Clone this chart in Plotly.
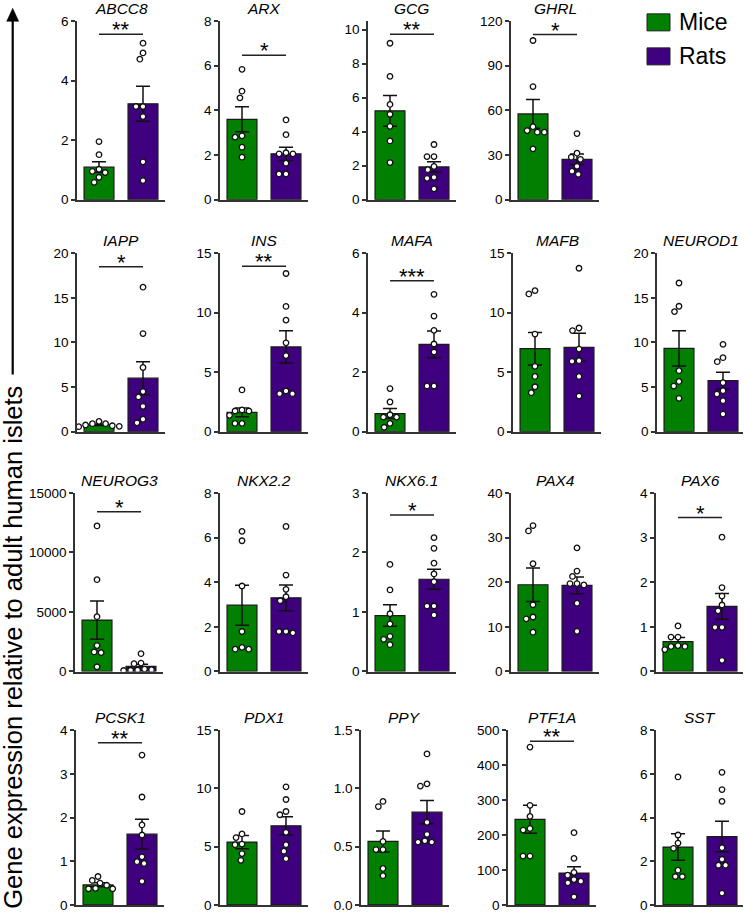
import math
import plotly.graph_objects as go

# ---------------- data ----------------
genes = ["ABCC8", "ARX", "GCG", "GHRL",
         "IAPP", "INS", "MAFA", "MAFB", "NEUROD1",
         "NEUROG3", "NKX2.2", "NKX6.1", "PAX4", "PAX6",
         "PCSK1", "PDX1", "PPY", "PTF1A", "SST"]

abcc8_mice = [1.95, 1.51, 1.02, 0.95, 0.91, 0.75, 0.58]
abcc8_rats = [5.26, 4.93, 4.72, 3.13, 3.13, 2.79, 1.27, 0.64]
arx_mice = [5.84, 4.86, 4.56, 2.86, 2.80, 2.35, 1.90]
arx_rats = [3.57, 2.91, 2.10, 2.05, 2.05, 1.63, 1.15, 1.15]
gcg_mice = [9.2, 7.25, 5.6, 5.02, 4.31, 3.45, 2.18]
gcg_rats = [3.24, 2.53, 2.53, 1.95, 1.76, 1.31, 1.25, 0.63]
ghrl_mice = [107, 76, 49, 46.4, 45.3, 45.3, 34.1]
ghrl_rats = [44.4, 31.2, 28.5, 27.1, 22.4, 19.1, 17.0]
iapp_mice = [1.16, 0.9, 0.9, 0.75, 0.67, 0.6, 0.56]
iapp_rats = [16.2, 11.0, 7.2, 4.5, 3.9, 2.85, 1.4, 1.0]
ins_mice = [3.51, 1.83, 1.74, 1.74, 1.38, 0.7, 0.7]
ins_rats = [13.3, 10.53, 9.38, 7.47, 6.4, 3.43, 3.2, 3.2]
mafa_mice = [1.45, 1.0, 0.57, 0.49, 0.49, 0.28, 0.15]
mafa_rats = [4.62, 3.89, 3.41, 2.95, 2.68, 1.54, 1.54]
mafb_mice = [11.86, 11.58, 8.21, 5.5, 4.65, 3.78, 3.28]
mafb_rats = [13.74, 8.72, 8.5, 6.95, 5.97, 5.92, 4.65, 3.0]
neurod1_mice = [16.67, 14.06, 13.46, 6.84, 5.64, 5.12, 3.74]
neurod1_rats = [9.79, 8.3, 7.85, 5.5, 4.6, 4.22, 3.48, 1.98]
neurog3_mice = [12232, 7712, 4605, 2175, 1638, 1582, 396]
neurog3_rats = [1497, 706, 650, 200, 150, 120, 100, 80]
nkx22_mice = [6.28, 5.86, 3.83, 1.79, 1.08, 1.0, 1.0]
nkx22_rats = [6.5, 4.32, 3.68, 3.35, 3.17, 1.79, 1.79, 1.73]
nkx61_mice = [1.80, 1.37, 0.97, 0.80, 0.59, 0.54, 0.45]
nkx61_rats = [2.25, 2.07, 1.82, 1.64, 1.51, 1.10, 1.10, 0.95]
pax4_mice = [32.7, 31.5, 24.15, 14.95, 12.2, 11.8, 8.8]
pax4_rats = [27.7, 22.5, 21.3, 19.7, 19.7, 19.4, 15.3, 9.0]
pax6_mice = [1.02, 0.77, 0.77, 0.58, 0.56, 0.56, 0.49]
pax6_rats = [3.01, 1.88, 1.69, 1.49, 1.36, 0.99, 0.99, 0.25]
pcsk1_mice = [0.65, 0.56, 0.50, 0.45, 0.38, 0.37, 0.37]
pcsk1_rats = [3.43, 2.47, 1.83, 1.60, 1.10, 0.99, 0.95, 0.54]
pdx1_mice = [8.02, 6.09, 5.78, 5.22, 5.17, 4.41, 3.83]
pdx1_rats = [10.14, 9.05, 8.02, 7.74, 6.23, 5.17, 4.61, 3.97]
ppy_mice = [0.888, 0.844, 0.545, 0.475, 0.475, 0.313, 0.251]
ppy_rats = [1.296, 1.039, 1.02, 0.709, 0.606, 0.55, 0.539, 0.539]
ptf1a_mice = [451.6, 284.9, 253.3, 218.8, 214.2, 139.7, 139.7]
ptf1a_rats = [206.7, 133.1, 93.1, 85, 72.6, 68, 63.3, 23.3]
sst_mice = [5.86, 3.2, 2.83, 2.59, 1.59, 1.30, 1.30]
sst_rats = [6.07, 5.28, 4.74, 2.62, 2.09, 1.82, 1.82, 0.54]

mice_points = [abcc8_mice, arx_mice, gcg_mice, ghrl_mice, iapp_mice, ins_mice,
               mafa_mice, mafb_mice, neurod1_mice, neurog3_mice, nkx22_mice,
               nkx61_mice, pax4_mice, pax6_mice, pcsk1_mice, pdx1_mice,
               ppy_mice, ptf1a_mice, sst_mice]
rats_points = [abcc8_rats, arx_rats, gcg_rats, ghrl_rats, iapp_rats, ins_rats,
               mafa_rats, mafb_rats, neurod1_rats, neurog3_rats, nkx22_rats,
               nkx61_rats, pax4_rats, pax6_rats, pcsk1_rats, pdx1_rats,
               ppy_rats, ptf1a_rats, sst_rats]

mice_mean = [1.09, 3.60, 5.22, 57.6, 0.78, 1.62, 0.61, 6.98, 9.35, 4322,
             2.97, 0.94, 19.44, 0.67, 0.46, 5.39, 0.545, 244.9, 2.65]
mice_sem = [0.18, 0.56, 0.91, 9.7, 0.08, 0.37, 0.17, 1.37, 1.98, 1610,
            0.90, 0.18, 3.75, 0.09, 0.045, 0.56, 0.09, 40, 0.61]
rats_mean = [3.22, 2.05, 1.92, 27.1, 6.0, 7.13, 2.94, 7.09, 5.72, 430,
             3.30, 1.55, 19.29, 1.46, 1.62, 6.79, 0.796, 91.2, 3.13]
rats_sem = [0.59, 0.30, 0.30, 3.5, 1.85, 1.35, 0.45, 1.18, 0.95, 180,
            0.58, 0.17, 1.9, 0.29, 0.34, 0.78, 0.10, 17.7, 0.70]

y_max = [6, 8, 10.5, 120, 20, 15, 6, 15, 20, 15000, 8, 3, 40, 4, 4, 15, 1.5, 500, 8]
y_step = [2, 2, 2, 30, 5, 5, 2, 5, 5, 5000, 2, 1, 10, 1, 1, 5, 0.5, 100, 2]
sig_label = ["**", "*", "**", "*", "*", "**", "***", "", "", "*", "", "*", "", "*",
             "**", "", "", "**", ""]
sig_height = [5.56, 6.47, 9.73, 111, 18.5, 13.9, 5.08, 0, 0, 13418, 0, 2.63, 0, 3.45,
              3.71, 0, 0, 468, 0]
group_names = ["Mice", "Rats"]

# ---------------- layout constants ----------------
W, H = 744, 913
GREEN = "#007F00"
PURPLE = "#3F007F"
AXC = "#333333"
FONT = "Liberation Sans, Arial, sans-serif"
row_tops = [20.7, 252.7, 492.3, 729.3]   # target picture positions
PH = 178.5
PW = 88
row_x0 = [[77, 220, 368, 511],
          [77, 220, 368, 513, 657],
          [75, 220, 368, 511, 656],
          [76, 220, 361, 508, 656]]
panel_pos = []
for r, xs in enumerate(row_x0):
    for x0 in xs:
        panel_pos.append((r, x0))

# vertical calibration of the page -> picture mapping observed in the renderer
SY, OY = 0.983, 6.65

def Y(v):
    return min(max((v - OY) / SY, 0.0), float(H))

def py(v):
    return (H - Y(v)) / H

def swarm(vals, ppu, D=7.0):
    placed = []
    out = [0.0] * len(vals)
    order = sorted(range(len(vals)), key=lambda k: -vals[k])
    for k in order:
        y = vals[k] * ppu
        cands = [0.0]
        for (px_, py_) in placed:
            dy = abs(py_ - y)
            if dy < D:
                dx = math.sqrt(D * D - dy * dy)
                cands += [px_ + dx, px_ - dx]
        best = 0.0
        for c in sorted(cands, key=lambda c: (round(abs(c), 6), c)):
            if all((c - a) ** 2 + (y - b) ** 2 >= D * D - 1e-6 for a, b in placed):
                best = c
                break
        placed.append((best, y))
        out[k] = best
    return out

fig = go.Figure()
shapes = []
annotations = []
layout_axes = {}
XPPU = PW / 2.0  # pixels per category unit

for i, g in enumerate(genes):
    r, x0 = panel_pos[i]
    top = row_tops[r]
    n = "" if i == 0 else str(i + 1)
    xa, ya = "x" + n, "y" + n
    ppu = PH / y_max[i]
    x1 = min(x0 + PW, W - 1)

    for j, (means, sems, pts, col) in enumerate([
            (mice_mean, mice_sem, mice_points, GREEN),
            (rats_mean, rats_sem, rats_points, PURPLE)]):
        fig.add_trace(go.Bar(
            x=[j], y=[means[i]], width=0.68, name=group_names[j],
            marker=dict(color=col, line=dict(color="#1a1a1a", width=1.2)),
            error_y=dict(type="data", array=[sems[i]], symmetric=True,
                         color="#111111", thickness=1.5, width=7),
            xaxis=xa, yaxis=ya, showlegend=False, hoverinfo="skip"))
        offs = swarm(pts[i], ppu)
        fig.add_trace(go.Scatter(
            x=[j + o / XPPU for o in offs], y=pts[i], mode="markers",
            marker=dict(size=5.5, color="white", line=dict(color="#111111", width=1.3)),
            xaxis=xa, yaxis=ya, showlegend=False, hoverinfo="skip"))

    nt = int(round(y_max[i] / y_step[i] + 1e-9))
    tv = [k * y_step[i] for k in range(nt + 1)]
    if y_step[i] < 1:
        tt = ["%.1f" % v for v in tv]
    else:
        tt = ["%d" % round(v) for v in tv]

    layout_axes["xaxis" + n] = dict(
        domain=[x0 / W, x1 / W], range=[-0.5, -0.5 + (x1 - x0) / XPPU], anchor=ya,
        showline=True, linecolor=AXC, linewidth=1.5, showticklabels=False,
        ticks="", showgrid=False, zeroline=False, fixedrange=True)
    layout_axes["yaxis" + n] = dict(
        domain=[py(top + PH), py(top)], range=[-y_max[i] * 0.0005, y_max[i] * 1.0005],
        anchor=xa, tickmode="array", tickvals=tv, ticktext=tt,
        ticks="outside", ticklen=4, tickwidth=1.5, tickcolor=AXC,
        showline=True, linecolor=AXC, linewidth=1.5, showgrid=False,
        zeroline=False, fixedrange=True,
        tickfont=dict(family=FONT, size=13.5, color="black"))

    annotations.append(dict(
        text="<i>%s</i>" % g, xref="paper", yref="paper",
        x=(x0 + PW / 2) / W, y=py(top - 12.5), xanchor="center", yanchor="middle",
        showarrow=False, font=dict(family=FONT, size=15.5, color="black")))

    if sig_label[i]:
        shapes.append(dict(type="line", xref=xa, yref=ya, x0=0, x1=1,
                           y0=sig_height[i], y1=sig_height[i],
                           line=dict(color="#222222", width=1.5)))
        annotations.append(dict(
            text=sig_label[i], xref=xa, yref=ya, x=0.5, y=sig_height[i],
            xanchor="center", yanchor="bottom", yshift=-10, showarrow=False,
            font=dict(family=FONT, size=22, color="black")))

# legend (manual)
for k, (nm, col) in enumerate(zip(group_names, [GREEN, PURPLE])):
    yt = 13.5 + k * 34
    shapes.append(dict(type="rect", xref="paper", yref="paper",
                       x0=647 / W, x1=670 / W, y0=py(yt + 17), y1=py(yt),
                       fillcolor=col, line=dict(color="#222222", width=1)))
    annotations.append(dict(text=nm, xref="paper", yref="paper",
                            x=677 / W, y=py(yt + 8.5), xanchor="left", yanchor="middle",
                            showarrow=False, font=dict(family=FONT, size=23, color="black")))

# y-axis label with arrow
annotations.append(dict(
    text="Gene expression relative to adult human islets", textangle=-90,
    xref="paper", yref="paper", x=13 / W, y=py(647), xanchor="center", yanchor="middle",
    showarrow=False, font=dict(family=FONT, size=25.5, color="black")))
shapes.append(dict(type="line", xref="paper", yref="paper",
                   x0=12.7 / W, x1=12.7 / W, y0=py(374), y1=py(18),
                   line=dict(color="black", width=2.2)))
shapes.append(dict(type="path", xref="paper", yref="paper",
                   path="M %f %f L %f %f L %f %f Z" % (6.7 / W, py(21), 18.7 / W, py(21), 12.7 / W, py(8)),
                   fillcolor="black", line=dict(color="black", width=0.5)))

fig.update_layout(
    width=W, height=H, margin=dict(l=0, r=0, t=0, b=0),
    paper_bgcolor="white", plot_bgcolor="white",
    showlegend=False, barmode="overlay",
    shapes=shapes, annotations=annotations, **layout_axes)

page_fix = (
    "document.documentElement.style.margin='0';"
    "document.documentElement.style.padding='0';"
    "document.documentElement.style.overflow='hidden';"
    "document.body.style.margin='0';document.body.style.padding='0';"
    "document.body.style.overflow='hidden';"
    "var d=document.getElementById('{plot_id}');"
    "d.style.position='absolute';d.style.left='0px';d.style.top='0px';"
)
fig.write_html("out.html", config={"displayModeBar": False}, post_script=page_fix)
